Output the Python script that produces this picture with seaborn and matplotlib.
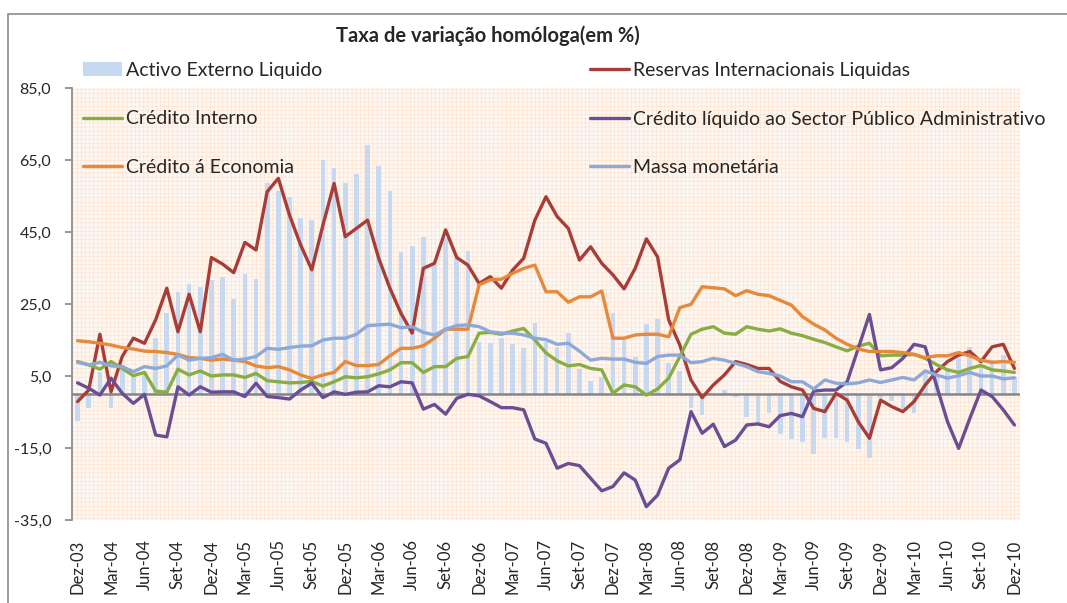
import numpy as np
import pandas as pd
import matplotlib
matplotlib.use('Agg')
import matplotlib.pyplot as plt
import seaborn as sns
from matplotlib.patches import Rectangle, Patch
from matplotlib.lines import Line2D

sns.set_theme(style="white")
plt.rcParams['font.family'] = ['Lato', 'DejaVu Sans']
plt.rcParams['hatch.linewidth'] = 0.4


# Dados: taxa de variação homóloga (%), Dez-03 a Dez-10

meses_pt = ['Jan', 'Fev', 'Mar', 'Abr', 'Mai', 'Jun', 'Jul', 'Ago', 'Set', 'Out', 'Nov', 'Dez']
meses = [f"{m}-{str(a)[2:]}" for a in range(2003, 2011) for m in meses_pt][11:]

activo_externo = [-7.5, -4.0, 6.0, -3.8, 8.0, 5.0, 5.5, 15.5, 22.4, 28.4, 30.5, 29.8,
                  31.7, 32.4, 26.4, 33.2, 31.9, 58.5, 56.4, 54.8, 48.8, 48.3, 65.0, 62.7,
                  58.5, 61.0, 69.2, 63.3, 56.4, 39.5, 41.2, 43.7, 35.8, 43.2, 37.7, 39.8,
                  14.5, 14.3, 15.6, 13.9, 12.9, 19.8, 14.5, 13.1, 16.9, 6.9, 3.6, 4.8,
                  22.4, 15.0, 10.4, 19.4, 20.7, 8.7, 6.4, -4.0, -5.8, 0.0, 1.1, -0.7,
                  -6.4, -9.0, -5.2, -11.2, -12.6, -13.4, -16.8, -12.3, -12.2, -13.4, -15.3, -17.9,
                  -1.2, -1.9, -4.2, -5.4, 6.2, 5.3, 7.1, 9.9, 13.1, 9.0, 9.4, 10.8, 4.8]

reservas = [-2.1, 1.1, 16.6, 0.6, 10.4, 15.5, 14.1, 20.6, 29.4, 17.3, 27.7, 17.3,
            37.9, 36.1, 33.7, 42.1, 40.0, 56.2, 59.9, 49.7, 41.4, 34.5, 46.9, 58.5,
            43.7, 46.0, 48.3, 37.7, 29.4, 22.4, 16.9, 34.9, 36.3, 45.6, 37.9, 35.8,
            30.7, 32.6, 29.4, 34.4, 37.7, 48.3, 54.8, 49.3, 46.0, 37.2, 40.9, 36.3,
            33.1, 29.2, 34.9, 43.1, 38.1, 20.6, 13.6, 3.9, -1.0, 2.5, 5.3, 9.0,
            8.2, 7.1, 7.1, 3.5, 2.0, 1.1, -4.0, -4.9, 0.2, -1.7, -7.7, -12.3,
            -1.7, -3.5, -4.9, -2.1, 2.5, 6.2, 9.0, 10.8, 11.8, 9.0, 13.1, 13.8, 7.1]

credito_interno = [9.0, 8.1, 6.9, 9.0, 7.1, 5.1, 6.0, 0.8, 0.5, 6.9, 5.3, 6.4,
                   5.0, 5.3, 5.3, 4.6, 5.7, 3.7, 3.4, 3.1, 3.2, 3.5, 2.2, 3.4,
                   4.8, 4.5, 4.8, 5.6, 6.7, 8.7, 8.7, 6.0, 7.6, 7.6, 9.9, 10.4,
                   16.9, 17.1, 16.6, 17.5, 18.2, 15.0, 11.4, 9.2, 7.8, 8.2, 7.1, 6.7,
                   0.2, 2.5, 2.0, -0.3, 1.4, 4.4, 10.4, 16.6, 18.0, 18.7, 16.9, 16.6,
                   18.7, 18.0, 17.5, 18.1, 16.9, 16.2, 15.2, 14.3, 13.1, 12.0, 13.3, 14.1,
                   10.6, 10.8, 10.8, 11.0, 9.9, 8.2, 6.7, 6.0, 7.1, 7.9, 6.7, 6.4, 6.0]

credito_spa = [3.1, 1.6, -0.3, 4.4, 0.2, -2.6, -0.1, -11.4, -11.9, 2.0, -0.3, 2.0,
               0.5, 0.6, 0.6, -0.7, 3.0, -0.7, -1.0, -1.4, 1.1, 3.0, -1.0, 0.6,
               -0.1, 0.5, 0.6, 2.3, 2.0, 3.4, 3.1, -4.2, -2.9, -5.6, -1.2, -0.1,
               -0.5, -2.1, -3.8, -3.8, -4.4, -12.5, -13.7, -20.6, -19.3, -19.9, -23.4, -26.9,
               -25.7, -21.9, -23.9, -31.3, -28.1, -20.6, -18.3, -4.9, -10.9, -8.4, -14.6, -12.8,
               -8.6, -8.3, -9.1, -6.0, -5.4, -6.3, 0.8, 1.1, 1.1, 3.4, 12.7, 22.1,
               6.7, 7.3, 9.9, 13.8, 13.1, 2.5, -7.7, -15.1, -6.8, 1.1, -0.7, -4.4, -8.6]

credito_economia = [14.8, 14.5, 14.1, 13.6, 12.9, 12.5, 11.9, 11.8, 11.5, 11.0, 10.1, 9.9,
                    9.4, 9.7, 9.4, 9.0, 7.8, 7.3, 7.6, 6.7, 5.3, 4.3, 5.3, 6.0,
                    9.0, 7.9, 7.9, 8.2, 10.6, 12.7, 12.7, 13.4, 15.5, 18.0, 18.0, 18.0,
                    30.3, 31.7, 31.9, 33.5, 34.9, 35.8, 28.4, 28.4, 25.5, 27.0, 27.0, 28.6,
                    15.5, 15.5, 16.4, 16.6, 16.6, 15.9, 24.0, 24.9, 29.8, 29.5, 29.2, 27.3,
                    28.7, 27.7, 27.3, 26.0, 24.7, 21.5, 19.4, 17.8, 15.5, 13.8, 12.5, 11.8,
                    11.8, 11.8, 11.5, 11.0, 10.1, 10.6, 10.6, 11.5, 10.6, 9.4, 8.8, 9.0, 8.8]

massa_monetaria = [8.8, 8.1, 8.8, 7.8, 7.6, 6.2, 7.6, 7.1, 7.8, 10.8, 9.4, 9.9,
                   10.1, 11.0, 9.4, 9.7, 10.4, 12.7, 12.4, 12.9, 13.3, 13.4, 15.0, 15.5,
                   15.5, 16.6, 19.0, 19.2, 19.4, 18.4, 18.7, 17.1, 16.4, 18.0, 19.0, 19.2,
                   18.7, 17.3, 16.9, 16.9, 16.4, 15.5, 15.1, 13.8, 14.1, 11.9, 9.4, 9.9,
                   9.7, 9.7, 8.8, 8.5, 10.4, 10.8, 10.8, 8.7, 9.0, 9.9, 9.4, 8.5,
                   7.6, 6.2, 5.7, 5.0, 3.4, 3.4, 1.4, 3.9, 3.0, 2.8, 3.1, 3.9,
                   3.2, 3.9, 4.6, 3.9, 6.4, 5.3, 4.4, 5.1, 6.0, 5.0, 5.0, 4.2, 4.5]

series = ['Reservas Internacionais Liquidas', 'Crédito Interno',
          'Crédito líquido ao Sector Público Administrativo', 'Crédito á Economia',
          'Massa monetária']
cores = {'Reservas Internacionais Liquidas': '#A83D38',
         'Crédito Interno': '#88AD44',
         'Crédito líquido ao Sector Público Administrativo': '#6A4E94',
         'Crédito á Economia': '#E6893A',
         'Massa monetária': '#8DA9D8'}
cor_barras = '#C6D9F1'

y_ticks = [-35, -15, 5, 25, 45, 65, 85]

df = pd.DataFrame({
    'idx': np.arange(len(meses)),
    'mes': meses,
    'Activo Externo Liquido': activo_externo,
    'Reservas Internacionais Liquidas': reservas,
    'Crédito Interno': credito_interno,
    'Crédito líquido ao Sector Público Administrativo': credito_spa,
    'Crédito á Economia': credito_economia,
    'Massa monetária': massa_monetaria,
})
long_df = df.melt(id_vars='idx', value_vars=series, var_name='serie', value_name='valor')


# Figura

fig = plt.figure(figsize=(10.67, 6.03), dpi=100)
fig.patches.append(Rectangle((8 / 1067, -0.05), 1.1, 1.05 - 14 / 603,
                             transform=fig.transFigure, facecolor='none',
                             edgecolor='#8C8C8C', linewidth=1.2))

ax = fig.add_axes([72 / 1067, 1 - 520 / 603, 948 / 1067, 432 / 603])
ax.patch.set_alpha(0)
# fundo com padrão de grelha fina
ax.add_patch(Rectangle((0, 0), 1, 1, transform=ax.transAxes, facecolor='#FFF7F2',
                       edgecolor='#FBE0CD', hatch='++++', linewidth=0, zorder=0))

sns.barplot(data=df, x='idx', y='Activo Externo Liquido', native_scale=True, width=0.42,
            color=cor_barras, saturation=1, edgecolor='none', linewidth=0, ax=ax, zorder=2)
ax.axhline(0, color='#868686', linewidth=1.8, zorder=3)
sns.lineplot(data=long_df, x='idx', y='valor', hue='serie', hue_order=series,
             palette=cores, linewidth=2.4, legend=False, ax=ax, zorder=4)

ax.set_xlim(-0.5, len(meses) - 0.5)
ax.set_ylim(-35, 85)
ax.set_yticks(y_ticks)
ax.set_yticklabels([f"{v:.1f}".replace('.', ',') for v in y_ticks], fontsize=11.5)
ax.set_xticks(df['idx'][::3])
ax.set_xticklabels(df['mes'][::3], rotation=90, fontsize=12)
ax.set_xlabel('')
ax.set_ylabel('')
ax.tick_params(axis='x', length=0, pad=14)
ax.tick_params(axis='y', length=5, width=1.2, color='#868686', pad=10, left=True)
for s in ['top', 'right', 'bottom']:
    ax.spines[s].set_visible(False)
ax.spines['left'].set_color('#868686')
ax.spines['left'].set_linewidth(1.2)

fig.text(488 / 1067, 1 - 36 / 603, 'Taxa de variação homóloga(em %)', ha='center',
         va='center', fontsize=14.5, fontweight='bold')

# Legenda em duas colunas
h1 = [Patch(facecolor=cor_barras, edgecolor='none'),
      Line2D([], [], color=cores['Crédito Interno'], lw=2.4),
      Line2D([], [], color=cores['Crédito á Economia'], lw=2.4)]
l1 = ['Activo Externo Liquido', 'Crédito Interno', 'Crédito á Economia']
h2 = [Line2D([], [], color=cores['Reservas Internacionais Liquidas'], lw=2.4),
      Line2D([], [], color=cores['Crédito líquido ao Sector Público Administrativo'], lw=2.4),
      Line2D([], [], color=cores['Massa monetária'], lw=2.4)]
l2 = ['Reservas Internacionais Liquidas', 'Crédito líquido ao Sector Público Administrativo',
      'Massa monetária']
for hs, ls, x0 in [(h1, l1, 83), (h2, l2, 590)]:
    fig.legend(hs, ls, loc='upper left', bbox_to_anchor=(x0 / 1067, 1 - 62 / 603),
               frameon=False, fontsize=14, labelspacing=1.62, handlelength=2.0,
               handletextpad=0.2, borderpad=0, borderaxespad=0)

fig.savefig('out.png', dpi=100)
